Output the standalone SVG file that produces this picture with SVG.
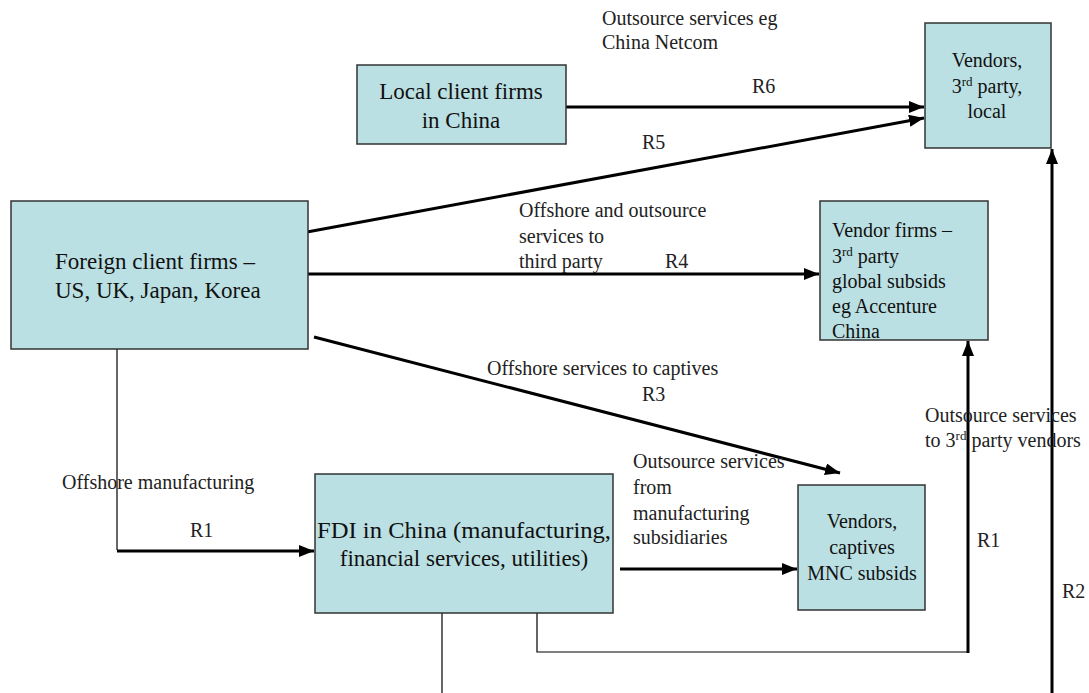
<svg xmlns="http://www.w3.org/2000/svg" width="1089" height="693" viewBox="0 0 1089 693">
<style>
.box{fill:#BBE0E3;stroke:#333;stroke-width:1.5}
.big{font-family:"Liberation Serif",serif;font-size:23px;fill:#111}
.mid{font-family:"Liberation Serif",serif;font-size:20px;fill:#111}
.lbl{font-family:"Liberation Serif",serif;font-size:20px;fill:#222}
.thick{stroke:#000;stroke-width:3;fill:none}
.thin{stroke:#000;stroke-width:1.2;fill:none}
</style>
<defs>
<marker id="ah" markerUnits="userSpaceOnUse" markerWidth="16" markerHeight="14" refX="15" refY="6" orient="auto">
<path d="M0,0 L15,6 L0,12 Z" fill="#000"/>
</marker>
</defs>
<rect width="1089" height="693" fill="#fff"/>
<g id="connectors">
<line class="thick" x1="566" y1="107" x2="924" y2="107" marker-end="url(#ah)"/>
<line class="thick" x1="307" y1="232" x2="924" y2="118" marker-end="url(#ah)"/>
<line class="thick" x1="308" y1="274" x2="819" y2="274" marker-end="url(#ah)"/>
<line class="thick" x1="314" y1="337" x2="840" y2="473" marker-end="url(#ah)"/>
<line class="thick" x1="620" y1="569" x2="797" y2="569" marker-end="url(#ah)"/>
<polyline class="thin" points="117,349 117,550"/>
<line class="thick" x1="117" y1="551" x2="314" y2="551" marker-end="url(#ah)"/>
<line class="thin" x1="442" y1="613" x2="442" y2="693"/>
<polyline class="thin" points="537,613 537,652 968,652"/>
<line class="thick" x1="968" y1="653" x2="968" y2="341" marker-end="url(#ah)"/>
<line class="thick" x1="1052" y1="693" x2="1052" y2="149" marker-end="url(#ah)"/>
</g>
<g id="local-client">
<rect class="box" x="357" y="65" width="209" height="79"/>
<text class="big" text-anchor="middle" x="461" y="99">Local client firms</text>
<text class="big" text-anchor="middle" x="461" y="128">in China</text>
</g>
<g id="vendors-local">
<rect class="box" x="925" y="23" width="126" height="125"/>
<text class="mid" text-anchor="middle" x="987" y="67">Vendors,</text>
<text class="mid" text-anchor="middle" x="987" y="93">3<tspan font-size="13" baseline-shift="super">rd</tspan> party,</text>
<text class="mid" text-anchor="middle" x="987" y="118">local</text>
</g>
<g id="foreign-client">
<rect class="box" x="11" y="201" width="297" height="148"/>
<text class="big" x="55" y="269">Foreign client firms –</text>
<text class="big" x="55" y="298">US, UK, Japan, Korea</text>
</g>
<g id="vendor-firms">
<rect class="box" x="820" y="201" width="168" height="139"/>
<text class="mid" x="832" y="237"> Vendor firms –</text>
<text class="mid" x="832" y="263">3<tspan font-size="13" baseline-shift="super">rd</tspan> party</text>
<text class="mid" x="832" y="288">global subsids</text>
<text class="mid" x="832" y="313">eg Accenture</text>
<text class="mid" x="832" y="338">China</text>
</g>
<g id="fdi">
<rect class="box" x="315" y="474" width="298" height="139"/>
<text class="big" x="317" y="538" textLength="294" lengthAdjust="spacingAndGlyphs">FDI in China  (manufacturing,</text>
<text class="big" text-anchor="middle" x="464" y="566">financial services, utilities)</text>
</g>
<g id="vendors-captives">
<rect class="box" x="798" y="485" width="127" height="125"/>
<text class="mid" text-anchor="middle" x="862" y="528">Vendors,</text>
<text class="mid" text-anchor="middle" x="862" y="554">captives</text>
<text class="mid" text-anchor="middle" x="862" y="580">MNC subsids</text>
</g>
<g id="labels">
<text class="lbl" x="602" y="25">Outsource services eg</text>
<text class="lbl" x="602" y="49">China Netcom</text>
<text class="lbl" x="752" y="93">R6</text>
<text class="lbl" x="642" y="149">R5</text>
<text class="lbl" x="519" y="217">Offshore and outsource</text>
<text class="lbl" x="519" y="243">services to</text>
<text class="lbl" x="519" y="268">third party</text>
<text class="lbl" x="665" y="268">R4</text>
<text class="lbl" x="487" y="375">Offshore services to captives</text>
<text class="lbl" x="642" y="401">R3</text>
<text class="lbl" x="633" y="468">Outsource services</text>
<text class="lbl" x="633" y="494">from</text>
<text class="lbl" x="633" y="520">manufacturing</text>
<text class="lbl" x="633" y="544">subsidiaries</text>
<text class="lbl" x="925" y="422">Outsource services</text>
<text class="lbl" x="925" y="447">to 3<tspan font-size="13" baseline-shift="super">rd</tspan> party vendors</text>
<text class="lbl" x="977" y="547">R1</text>
<text class="lbl" x="1062" y="598">R2</text>
<text class="lbl" x="62" y="489">Offshore manufacturing</text>
<text class="lbl" x="190" y="537">R1</text>
</g>
</svg>
